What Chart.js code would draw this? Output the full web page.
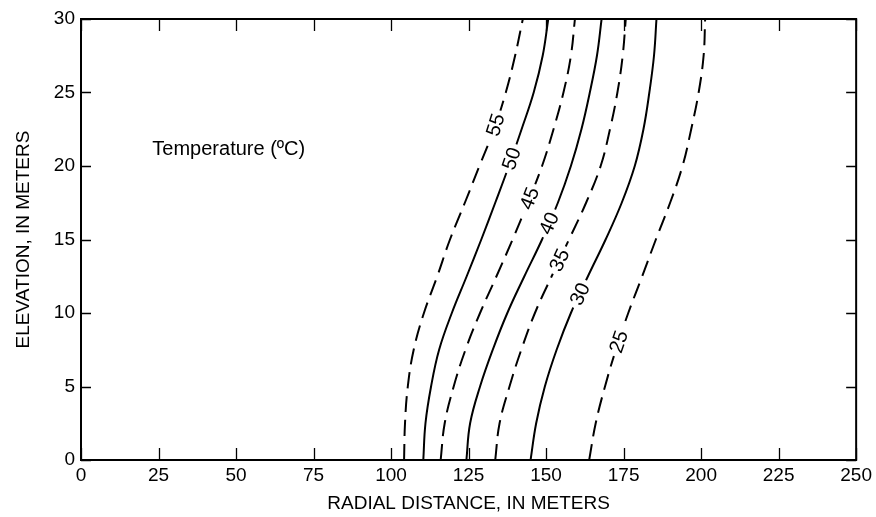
<!DOCTYPE html>
<html>
<head>
<meta charset="utf-8">
<script src="https://cdn.jsdelivr.net/npm/chart.js@4/dist/chart.umd.min.js"></script>
<style>
  html, body { margin: 0; padding: 0; background: #fff; }
  canvas { display: block; }
</style>
</head>
<body>
<canvas id="c" width="876" height="517"></canvas>
<script>
// ---- data ----
const xTicks = [0, 25, 50, 75, 100, 125, 150, 175, 200, 225, 250];
const yTicks = [0, 5, 10, 15, 20, 25, 30];
const elevations = [0, 2.5, 5, 7.5, 10, 12.5, 15, 17.5, 20, 22.5, 25, 27.5, 30];

const levels = [55, 50, 45, 40, 35, 30, 25];
const iso55 = [104.2, 104.5, 105.4, 107.3, 110.6, 114.9, 119.0, 123.8, 128.5, 133.2, 137.0, 140.0, 142.5];
const iso50 = [110.4, 111.1, 112.9, 115.5, 119.6, 124.4, 129.1, 133.6, 138.0, 142.1, 146.0, 148.9, 150.7];
const iso45 = [116.0, 117.3, 120.2, 124.0, 128.7, 134.0, 139.2, 144.1, 148.7, 152.4, 155.6, 158.0, 159.3];
const iso40 = [124.3, 125.5, 128.7, 132.8, 137.5, 143.0, 148.7, 153.8, 158.0, 161.4, 164.1, 166.4, 167.9];
const iso35 = [133.6, 135.0, 138.2, 142.0, 146.4, 151.8, 157.4, 162.9, 167.6, 170.6, 173.0, 174.7, 175.7];
const iso30 = [145.0, 146.8, 149.6, 153.4, 158.0, 163.5, 169.2, 174.4, 178.6, 181.4, 183.3, 184.8, 185.6];
const iso25 = [163.9, 166.0, 169.0, 172.5, 176.5, 181.0, 185.4, 190.0, 194.0, 196.8, 199.2, 200.8, 201.3];
const isotherms = [iso55, iso50, iso45, iso40, iso35, iso30, iso25];
const dashedLevel = [true, false, true, false, true, false, true];
// elevation at which each contour carries its label
const labelElev = [22.8, 20.5, 17.8, 16.1, 13.6, 11.3, 8.05];

const xTitle = 'RADIAL DISTANCE, IN METERS';
const yTitle = 'ELEVATION, IN METERS';
const noteText = 'Temperature (ºC)';
const notePos = { x: 23, y: 21.1 };

const FONT = '"Liberation Sans", Arial, Helvetica, sans-serif';

const datasets = isotherms.map((xs, i) => ({
  label: String(levels[i]),
  data: xs.map((x, k) => ({ x: x, y: elevations[k] })),
  showLine: true,
  borderColor: '#000',
  borderWidth: 2,
  borderDash: dashedLevel[i] ? [16, 8] : [],
  pointRadius: 0,
  tension: 0.4,
  fill: false
}));

const decor = {
  id: 'decor',
  afterDatasetsDraw(chart) {
    const ctx = chart.ctx;
    const xs = chart.scales.x, ys = chart.scales.y;
    ctx.save();
    ctx.font = '20px ' + FONT;
    ctx.textAlign = 'center';
    ctx.textBaseline = 'middle';
    isotherms.forEach((arr, i) => {
      const e = labelElev[i];
      let k = 0;
      while (k < elevations.length - 2 && elevations[k + 1] < e) k++;
      const t = (e - elevations[k]) / (elevations[k + 1] - elevations[k]);
      const x0 = xs.getPixelForValue(arr[k]), y0 = ys.getPixelForValue(elevations[k]);
      const x1 = xs.getPixelForValue(arr[k + 1]), y1 = ys.getPixelForValue(elevations[k + 1]);
      const px = x0 + (x1 - x0) * t, py = y0 + (y1 - y0) * t;
      const ang = Math.atan2(y1 - y0, x1 - x0);
      const txt = String(levels[i]);
      const w = ctx.measureText(txt).width + 8;
      ctx.save();
      ctx.translate(px, py);
      ctx.rotate(ang);
      ctx.fillStyle = '#fff';
      ctx.fillRect(-w / 2, -10, w, 20);
      ctx.fillStyle = '#000';
      ctx.fillText(txt, 0, 1);
      ctx.restore();
    });
    ctx.restore();
  },
  afterDraw(chart) {
    const ctx = chart.ctx;
    const a = chart.chartArea;
    const xs = chart.scales.x, ys = chart.scales.y;
    ctx.save();
    ctx.strokeStyle = '#000';
    ctx.lineWidth = 2;
    ctx.setLineDash([]);
    ctx.strokeRect(a.left, a.top, a.right - a.left, a.bottom - a.top);
    ctx.lineWidth = 1.3;
    ctx.beginPath();
    xTicks.forEach(v => {
      const p = Math.round(xs.getPixelForValue(v)) + 0.5;
      ctx.moveTo(p, a.bottom); ctx.lineTo(p, a.bottom - 12);
      ctx.moveTo(p, a.top); ctx.lineTo(p, a.top + 12);
    });
    yTicks.forEach(v => {
      const p = Math.round(ys.getPixelForValue(v)) + 0.5;
      ctx.moveTo(a.left, p); ctx.lineTo(a.left + 10, p);
      ctx.moveTo(a.right, p); ctx.lineTo(a.right - 10, p);
    });
    ctx.stroke();
    ctx.fillStyle = '#000';
    ctx.font = '20px ' + FONT;
    ctx.textAlign = 'left';
    ctx.textBaseline = 'middle';
    ctx.fillText(noteText, xs.getPixelForValue(notePos.x), ys.getPixelForValue(notePos.y));
    ctx.restore();
  }
};

new Chart(document.getElementById('c'), {
  type: 'scatter',
  data: { datasets: datasets },
  options: {
    responsive: false,
    animation: false,
    devicePixelRatio: 1,
    layout: { padding: { left: 0, right: 16, top: 19, bottom: 0 } },
    plugins: { legend: { display: false }, tooltip: { enabled: false } },
    scales: {
      x: {
        type: 'linear', min: 0, max: 250,
        afterBuildTicks: s => { s.ticks = xTicks.map(v => ({ value: v })); },
        ticks: { color: '#000', font: { family: FONT, size: 19 }, padding: 4, maxRotation: 0, autoSkip: false },
        grid: { display: false, drawTicks: false },
        border: { display: false },
        title: { display: true, text: xTitle, color: '#000', font: { family: FONT, size: 19 }, padding: { top: 0, bottom: 2 } },
        afterFit: s => { s.height = 57; }
      },
      y: {
        type: 'linear', min: 0, max: 30,
        afterBuildTicks: s => { s.ticks = yTicks.map(v => ({ value: v })); },
        ticks: { color: '#000', font: { family: FONT, size: 19 }, padding: 6, autoSkip: false },
        grid: { display: false, drawTicks: false },
        border: { display: false },
        title: { display: true, text: yTitle, color: '#000', font: { family: FONT, size: 19 }, padding: { top: 12, bottom: 0 } },
        afterFit: s => { s.width = 81; }
      }
    }
  },
  plugins: [decor]
});
</script>
</body>
</html>
